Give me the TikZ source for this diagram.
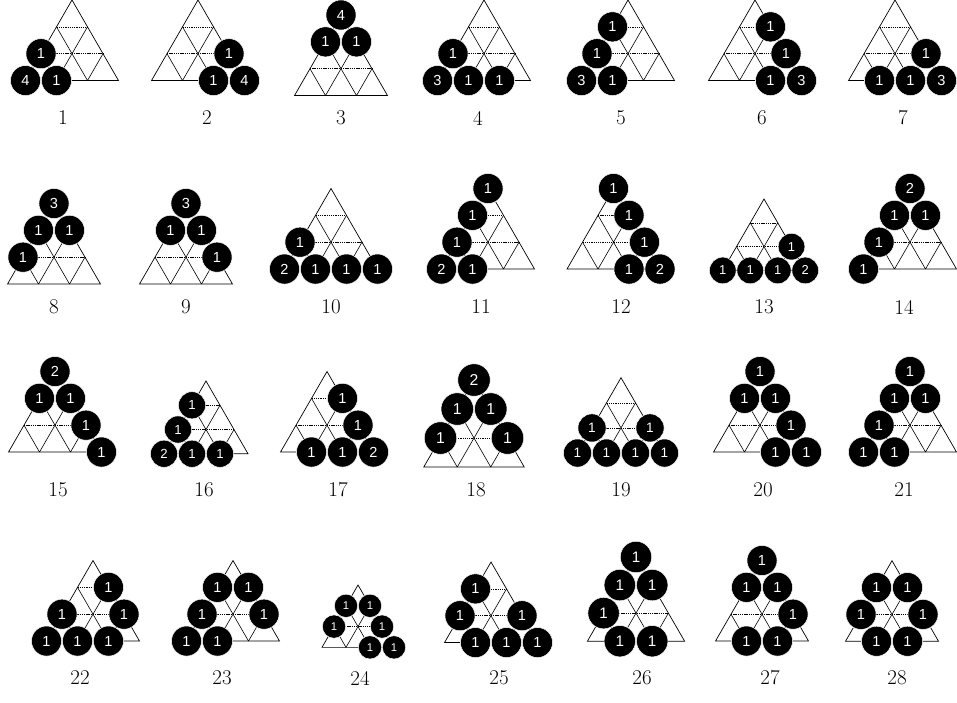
\documentclass[tikz,border=0pt]{standalone}
\usepackage{fontspec}
\setsansfont{Liberation Sans}
\tikzset{
  outer/.style={draw=black, line width=0.7pt, line join=miter},
  hline/.style={draw=black, line width=0.6pt, dash pattern=on 1.3pt off 0.9pt},
  dline/.style={draw=black, line width=0.6pt},
  ball/.style={circle, fill=black, draw=white, line width=0.5pt, inner sep=0pt, text=white},
  lab/.style={inner sep=0pt, font=\fontsize{21}{23}\selectfont}
}
\newcommand{\diagram}[5]{%
  \begin{scope}[shift={(#2,#3)}, x={(#4pt,0pt)}, y={(0pt,-0.8660254*#4pt)}]
    \draw[outer] (0,0) -- (-1.5,3) -- (1.5,3) -- cycle;
    \draw[hline] (-0.5,1) -- (0.5,1) (-1,2) -- (1,2);
    \draw[dline] (0.5,1) -- (-0.5,3) (1,2) -- (0.5,3) (-0.5,1) -- (0.5,3) (-1,2) -- (-0.5,3);
    \pgfmathsetmacro\fs{0.47*#4}
    \foreach \ii/\jj/\ll in {#5} {
      \node[ball, minimum size={0.97*#4pt}, font=\fontsize{\fs}{\fs}\selectfont\sffamily] (#1-\ii-\jj) at ({\jj-\ii/2},\ii) {\ll};
    }
  \end{scope}}
\begin{document}
\begin{tikzpicture}[x=1pt,y=-1pt]
\useasboundingbox (0,0) rectangle (957,702);
% Row 1
\diagram{a1}{72}{0}{31}{2/0/1, 3/0/4, 3/1/1}
\diagram{a2}{198}{0}{31}{2/2/1, 3/2/1, 3/3/4}
\diagram{a3}{341}{15}{31}{0/0/4, 1/0/1, 1/1/1}
\diagram{a4}{484}{0}{31}{2/0/1, 3/0/3, 3/1/1, 3/2/1}
\diagram{a5}{628}{0}{31}{1/0/1, 2/0/1, 3/0/3, 3/1/1}
\diagram{a6}{755}{0}{31}{1/1/1, 2/2/1, 3/2/1, 3/3/3}
\diagram{a7}{895}{0}{31}{2/2/1, 3/1/1, 3/2/1, 3/3/3}
% Row 2
\diagram{a8}{54}{203.5}{31}{0/0/3, 1/0/1, 1/1/1, 2/0/1}
\diagram{a9}{186}{203.5}{31}{0/0/3, 1/0/1, 1/1/1, 2/2/1}
\diagram{a10}{331}{188.5}{31}{2/0/1, 3/0/2, 3/1/1, 3/2/1, 3/3/1}
\diagram{a11}{488}{188.5}{31}{0/0/1, 1/0/1, 2/0/1, 3/0/2, 3/1/1}
\diagram{a12}{613.5}{188.5}{31}{0/0/1, 1/1/1, 2/2/1, 3/2/1, 3/3/2}
\diagram{a13}{764}{199}{27.5}{2/2/1, 3/0/1, 3/1/1, 3/2/1, 3/3/2}
\diagram{a14}{910}{188.5}{31}{0/0/2, 1/0/1, 1/1/1, 2/0/1, 3/0/1}
% Row 3
\diagram{a15}{55}{371.5}{31}{0/0/2, 1/0/1, 1/1/1, 2/2/1, 3/3/1}
\diagram{a16}{206}{381}{28}{1/0/1, 2/0/1, 3/0/2, 3/1/1, 3/2/1}
\diagram{a17}{327}{371.5}{31}{1/1/1, 2/2/1, 3/1/1, 3/2/1, 3/3/2}
\diagram{a18}{474}{380}{33.5}{0/0/2, 1/0/1, 1/1/1, 2/0/1, 2/2/1}
\diagram{a19}{621}{377.7}{29}{2/0/1, 2/2/1, 3/0/1, 3/1/1, 3/2/1, 3/3/1}
\diagram{a20}{760}{371.5}{31}{0/0/1, 1/0/1, 1/1/1, 2/2/1, 3/2/1, 3/3/1}
\diagram{a21}{910}{371.5}{31}{0/0/1, 1/0/1, 1/1/1, 2/0/1, 3/0/1, 3/1/1}
% Row 4
\diagram{a22}{93}{560.5}{31}{1/1/1, 2/0/1, 2/2/1, 3/0/1, 3/1/1, 3/2/1}
\diagram{a23}{233}{560.5}{31}{1/0/1, 1/1/1, 2/0/1, 2/2/1, 3/0/1, 3/1/1}
\diagram{a24}{358}{585}{24}{1/0/1, 1/1/1, 2/0/1, 2/2/1, 3/2/1, 3/3/1}
\diagram{a25}{491}{562}{31}{1/0/1, 2/0/1, 2/2/1, 3/1/1, 3/2/1, 3/3/1}
\diagram{a26}{636}{557}{32.4}{0/0/1, 1/0/1, 1/1/1, 2/0/1, 3/1/1, 3/2/1}
\diagram{a27}{762}{560.5}{31}{0/0/1, 1/0/1, 1/1/1, 2/2/1, 3/1/1, 3/2/1}
\diagram{a28}{892}{560.7}{31}{1/0/1, 1/1/1, 2/0/1, 2/2/1, 3/1/1, 3/2/1}
% Labels
\node[lab] (l1) at (63,118) {1};
\node[lab] (l2) at (207,118) {2};
\node[lab] (l3) at (341,118) {3};
\node[lab] (l4) at (478,118) {4};
\node[lab] (l5) at (621,118) {5};
\node[lab] (l6) at (762,118) {6};
\node[lab] (l7) at (903,118) {7};
\node[lab] (l8) at (54,307) {8};
\node[lab] (l9) at (186,307) {9};
\node[lab] (l10) at (331,307) {10};
\node[lab] (l11) at (481,307) {11};
\node[lab] (l12) at (621,307) {12};
\node[lab] (l13) at (764,307) {13};
\node[lab] (l14) at (904,307) {14};
\node[lab] (l15) at (58,490) {15};
\node[lab] (l16) at (204,490) {16};
\node[lab] (l17) at (338,490) {17};
\node[lab] (l18) at (476,490) {18};
\node[lab] (l19) at (621,490) {19};
\node[lab] (l20) at (763,490) {20};
\node[lab] (l21) at (904,490) {21};
\node[lab] (l22) at (80,678) {22};
\node[lab] (l23) at (222,678) {23};
\node[lab] (l24) at (360,678) {24};
\node[lab] (l25) at (499,678) {25};
\node[lab] (l26) at (642,678) {26};
\node[lab] (l27) at (770,678) {27};
\node[lab] (l28) at (897,678) {28};
\end{tikzpicture}
\end{document}
